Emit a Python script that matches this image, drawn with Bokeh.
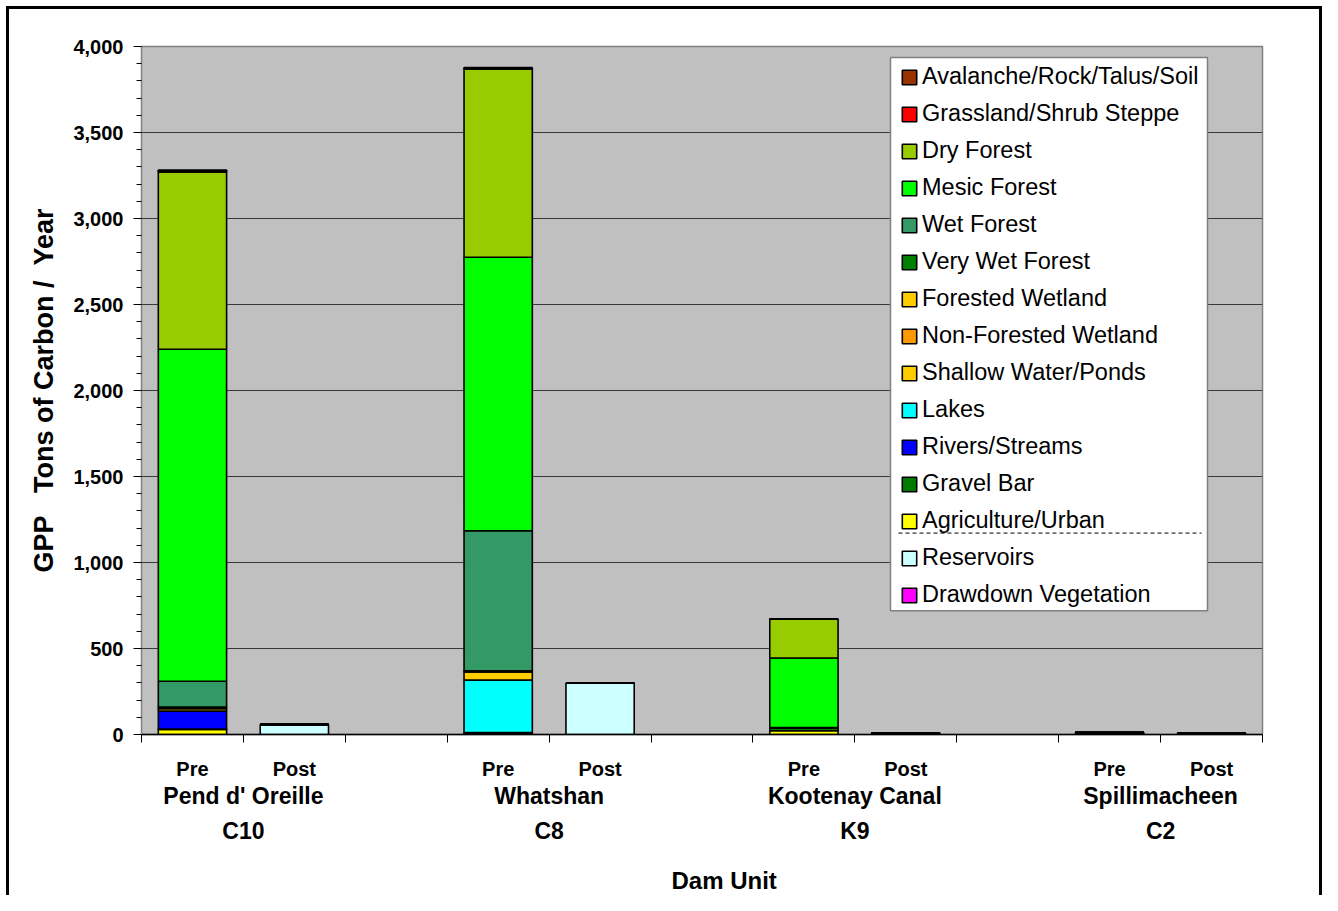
from bokeh.plotting import figure
from bokeh.models import (ColumnDataSource, FixedTicker, LinearAxis, NumeralTickFormatter,
                          Legend, LegendItem, Range1d, Title)
from bokeh.embed import file_html
from bokeh.resources import INLINE

# ---------------- data ----------------
dams = ["Pend d' Oreille", "Whatshan", "Kootenay Canal", "Spillimacheen"]
codes = ["C10", "C8", "K9", "C2"]
phases = ["Pre", "Post"]

# bar order: C10 Pre, C10 Post, C8 Pre, C8 Post, K9 Pre, K9 Post, C2 Pre, C2 Post
drawdown_vegetation = [0, 0, 0, 0, 0, 0, 0, 0]
reservoirs          = [0, 58, 0, 298, 0, 8, 0, 6]
agriculture_urban   = [30, 0, 5, 0, 22, 0, 0, 0]
gravel_bar          = [2, 0, 4, 0, 14, 0, 8, 0]
rivers_streams      = [104, 0, 2, 0, 4, 0, 4, 0]
lakes               = [0, 0, 305, 0, 0, 0, 0, 0]
shallow_water       = [14, 0, 48, 0, 0, 0, 0, 0]
non_forested_wet    = [6, 0, 4, 0, 0, 0, 0, 0]
forested_wetland    = [4, 0, 2, 0, 0, 0, 0, 0]
very_wet_forest     = [0, 0, 0, 0, 0, 0, 0, 0]
wet_forest          = [150, 0, 815, 0, 0, 0, 0, 0]
mesic_forest        = [1930, 0, 1590, 0, 405, 0, 0, 0]
dry_forest          = [1030, 0, 1095, 0, 227, 0, 0, 0]
grassland_steppe    = [3, 0, 2, 0, 0, 0, 0, 0]
avalanche_rock      = [8, 0, 6, 0, 0, 0, 0, 0]

series_names = ["Drawdown Vegetation", "Reservoirs", "Agriculture/Urban", "Gravel Bar",
                "Rivers/Streams", "Lakes", "Shallow Water/Ponds", "Non-Forested Wetland",
                "Forested Wetland", "Very Wet Forest", "Wet Forest", "Mesic Forest",
                "Dry Forest", "Grassland/Shrub Steppe", "Avalanche/Rock/Talus/Soil"]
series_values = [drawdown_vegetation, reservoirs, agriculture_urban, gravel_bar,
                 rivers_streams, lakes, shallow_water, non_forested_wet, forested_wetland,
                 very_wet_forest, wet_forest, mesic_forest, dry_forest, grassland_steppe,
                 avalanche_rock]
series_colors = ["#FF00FF", "#CCFFFF", "#FFFF00", "#007A00", "#0000FF", "#00FFFF",
                 "#FFCC00", "#FF9900", "#FFCC00", "#008000", "#339966", "#00FF00",
                 "#99CC00", "#FF0000", "#993300"]

y_ticks = list(range(0, 4001, 500))
y_minor = list(range(0, 4001, 100))

# ---------------- layout helpers ----------------
SLOTS_PER_GROUP = 3          # Pre, Post, gap
n_slots = SLOTS_PER_GROUP * len(dams) - 1
bar_x = [g * SLOTS_PER_GROUP + s + 0.5 for g in range(len(dams)) for s in range(len(phases))]
bar_labels = [ph for _ in dams for ph in phases]
group_x = [g * SLOTS_PER_GROUP + 1 for g in range(len(dams))]

keys = [f"s{i}" for i in range(len(series_names))]
data = {"x": bar_x}
for k, v in zip(keys, series_values):
    data[k] = v
source = ColumnDataSource(data)

FONT = "Liberation Sans"

W, H = 1322, 895
ML, MR, MT, MB = 141, 60, 46, 159
frame_w = W - ML - MR
frame_h = H - MT - MB
px_x = n_slots / frame_w      # data units per pixel (x)
px_y = 4000 / frame_h         # data units per pixel (y)

p = figure(width=W, height=H, x_range=Range1d(0, n_slots), y_range=Range1d(0, 4000),
           output_backend="svg", toolbar_location=None,
           min_border_left=ML, min_border_right=MR, min_border_top=MT, min_border_bottom=MB,
           background_fill_color="#C0C0C0", border_fill_color="white", border_fill_alpha=0,
           outline_line_color="#808080", outline_line_width=1.5)
# black frame around the chart (left, top, right), painted behind the transparent border area
p.styles = {"background": (
    "linear-gradient(#000,#000) left 6px top 6px / 3px 100% no-repeat, "
    "linear-gradient(#000,#000) left 6px top 6px / calc(100% - 6px) 3px no-repeat, "
    "linear-gradient(#000,#000) right 0px top 6px / 3px 100% no-repeat, #ffffff")}

renderers = p.vbar_stack(keys, x="x", width=0.67, source=source, fill_color=series_colors,
                         line_color="black", line_width=1.6)

# grid
p.xgrid.grid_line_color = None
p.ygrid.ticker = FixedTicker(ticks=y_ticks)
p.ygrid.grid_line_color = "#3a3a3a"
p.ygrid.grid_line_width = 1

# y axis
ya = p.yaxis[0]
ya.ticker = FixedTicker(ticks=y_ticks, minor_ticks=y_minor)
ya.formatter = NumeralTickFormatter(format="0,0")
ya.major_tick_out = 8
ya.major_tick_in = 0
ya.minor_tick_out = 5
ya.minor_tick_in = 0
ya.major_tick_line_color = "black"
ya.minor_tick_line_color = "black"
ya.axis_line_color = "#808080"
ya.major_label_text_font = FONT
ya.major_label_text_font_style = "bold"
ya.major_label_text_font_size = "20px"
ya.major_label_text_color = "black"
ya.major_label_standoff = 10
ya.axis_label = "GPP\u00a0\u00a0\u00a0Tons of Carbon /\u00a0\u00a0Year"
ya.axis_label_text_font = FONT
ya.axis_label_text_font_style = "bold"
ya.axis_label_text_font_size = "27px"
ya.axis_label_text_color = "black"
ya.axis_label_standoff = 11

# x axis: Pre / Post labels and slot-boundary ticks
xa = p.xaxis[0]
xa.ticker = FixedTicker(ticks=bar_x, minor_ticks=list(range(n_slots + 1)))
xa.major_label_overrides = {x: lab for x, lab in zip(bar_x, bar_labels)}
xa.major_tick_line_color = None
xa.major_tick_out = 0
xa.major_tick_in = 0
xa.minor_tick_out = 8
xa.minor_tick_in = 0
xa.minor_tick_line_color = "black"
xa.minor_tick_line_width = 1
xa.axis_line_color = "black"
xa.axis_line_width = 1.5
xa.major_label_text_font = FONT
xa.major_label_text_font_style = "bold"
xa.major_label_text_font_size = "20px"
xa.major_label_text_color = "black"
xa.major_label_standoff = 15

def label_axis(labels, size, standoff):
    ax = LinearAxis(ticker=FixedTicker(ticks=group_x, minor_ticks=[]),
                    major_label_overrides={x: lab for x, lab in zip(group_x, labels)})
    ax.axis_line_color = None
    ax.major_tick_line_color = None
    ax.minor_tick_line_color = None
    ax.major_tick_out = 0
    ax.major_tick_in = 0
    ax.minor_tick_out = 0
    ax.major_label_text_font = FONT
    ax.major_label_text_font_style = "bold"
    ax.major_label_text_font_size = size
    ax.major_label_text_color = "black"
    ax.major_label_standoff = standoff
    return ax

p.add_layout(label_axis(dams, "23px", 0), "below")
code_axis = label_axis(codes, "23px", 6)
code_axis.axis_label = "\u00a0"          # small spacer below the codes
code_axis.axis_label_text_font_size = "12px"
code_axis.axis_label_standoff = 0
p.add_layout(code_axis, "below")

p.add_layout(Title(text="Dam Unit", text_font=FONT, text_font_style="bold",
                   text_font_size="24px", text_color="black", align="left",
                   offset=530, standoff=3), "below")

# ---------------- legend ----------------
# legend box (pixels, relative to the frame's bottom-left corner)
BOX_X, BOX_Y, BOX_W, BOX_H = 749, 124, 317, 555
SEP_Y = 202                    # dashed separator height above frame bottom

# white box with grey border, drawn beneath the (transparent) legend
p.quad(left=[BOX_X * px_x], right=[(BOX_X + BOX_W) * px_x],
       bottom=[BOX_Y * px_y], top=[(BOX_Y + BOX_H) * px_y],
       fill_color="white", line_color="#808080", line_width=1.5, level="overlay")
p.line([(BOX_X + 8) * px_x, (BOX_X + BOX_W - 6) * px_x], [SEP_Y * px_y] * 2,
       line_color="black", line_width=1, line_dash="4 3", level="overlay")

items = [LegendItem(label=n, renderers=[r]) for n, r in zip(series_names[::-1], renderers[::-1])]
legend = Legend(items=items, location=(BOX_X + 10, BOX_Y + 2), orientation="vertical",
                label_text_font=FONT, label_text_font_size="23.5px", label_text_color="black",
                glyph_width=18, glyph_height=18, label_height=26, label_standoff=4,
                spacing=10, padding=6, margin=0,
                border_line_color=None, background_fill_alpha=0)
p.add_layout(legend)

open("out.html", "w").write(file_html(p, INLINE))
